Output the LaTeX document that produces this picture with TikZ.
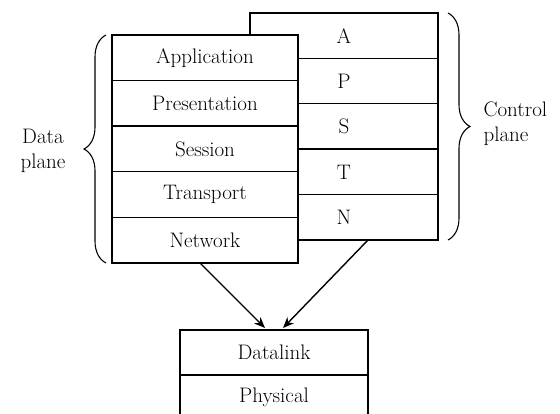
\documentclass[tikz,border=0pt]{standalone}
\usetikzlibrary{decorations.pathreplacing,arrows.meta,calc}
\begin{document}
\begin{tikzpicture}[x=1pt,y=-1pt,
  every node/.style={font=\fontsize{21}{25}\selectfont},
  layer/.style={draw=black,line width=1.4pt,fill=white,minimum width=#1,minimum height=45.6pt,inner sep=0pt,outer sep=0pt},
  layer/.default=186pt,
  conn/.style={line width=1.4pt,-{Stealth[length=11pt,width=9pt]}},
  bracestyle/.style={line width=1.1pt,decorate,decoration={brace,amplitude=22pt}}]
\useasboundingbox (0,0) rectangle (560,414);
\clip (0,0) rectangle (560,414);
% control plane
\node[layer=188pt,minimum height=45.4pt] (cA) at (344,35.7) {A};
\node[layer=188pt,minimum height=45.4pt] (cP) at (344,81.1) {P};
\node[layer=188pt,minimum height=45.4pt] (cS) at (344,126.5) {S};
\node[layer=188pt,minimum height=45.4pt] (cT) at (344,171.9) {T};
\node[layer=188pt,minimum height=45.4pt] (cN) at (344,217.3) {N};
% data plane
\node[layer] (app) at (205,57.8) {Application};
\node[layer] (pre) at (205,103.4) {Presentation};
\node[layer] (ses) at (205,149) {Session};
\node[layer] (tra) at (205,194.6) {Transport};
\node[layer] (net) at (205,240.2) {Network};
% bottom
\node[layer=188pt,minimum height=45pt] (dl) at (274,352.5) {Datalink};
\node[layer=188pt,minimum height=45pt] (ph) at (274,397.5) {Physical};
% arrows
\draw[conn] ($(net.south)+(-5,0)$) -- ($(dl.north)+(-9,-2)$);
\draw[conn] ($(cN.south)+(24,0)$) -- ($(dl.north)+(9,-2)$);
% braces
\draw[bracestyle] (106,263) -- (106,35);
\draw[bracestyle] (448,13) -- (448,240);
\node[align=center] (dp) at (43,151) {Data\\plane};
\node[align=left,anchor=west] (cp) at (480,124) {Control\\plane};
\end{tikzpicture}
\end{document}
